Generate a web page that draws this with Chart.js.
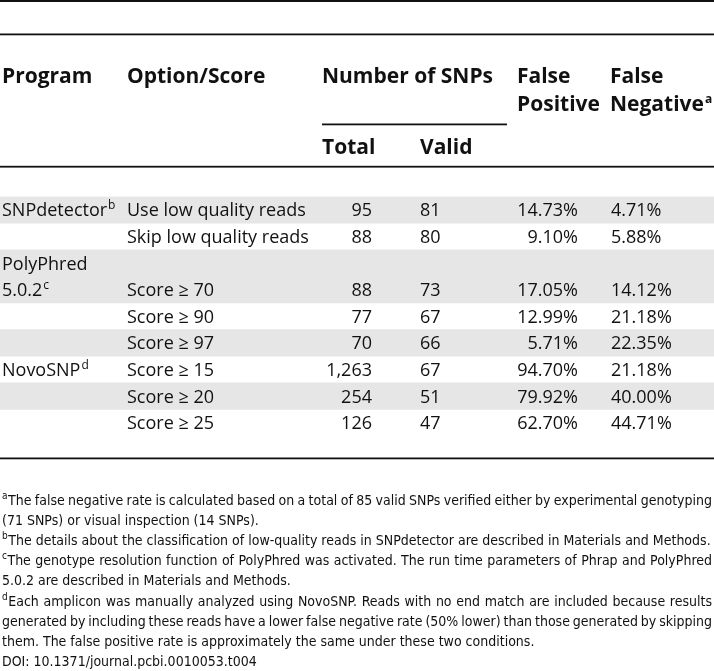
<!DOCTYPE html>
<html>
<head>
<meta charset="utf-8">
<script src="https://cdn.jsdelivr.net/npm/chart.js@4.4.1/dist/chart.umd.min.js"></script>
<style>
  html, body { margin: 0; padding: 0; background: #fff; }
  #wrap { position: relative; width: 714px; height: 671px; }
</style>
</head>
<body>
<div id="wrap"><canvas id="snpTable"></canvas></div>
<script>
// ---------- Table data ---------- //
const programs = ['SNPdetector', '', 'PolyPhred', '5.0.2', '', '', 'NovoSNP', '', ''];
const programNotes = ['b', '', '', 'c', '', '', 'd', '', ''];
const options = ['Use low quality reads', 'Skip low quality reads', '', 'Score \u2265 70', 'Score \u2265 90',
  'Score \u2265 97', 'Score \u2265 15', 'Score \u2265 20', 'Score \u2265 25'];
const totals = [95, 88, null, 88, 77, 70, 1263, 254, 126];
const valids = [81, 80, null, 73, 67, 66, 67, 51, 47];
const falsePositive = [14.73, 9.10, null, 17.05, 12.99, 5.71, 94.70, 79.92, 62.70];
const falseNegative = [4.71, 5.88, null, 14.12, 21.18, 22.35, 21.18, 40.00, 44.71];
const shadedRows = [true, false, true, true, false, true, false, true, false];

const headTop = ['Program', 'Option/Score', 'Number of SNPs', 'False', 'False'];
const headSecond = ['Positive', 'Negative'];
const headSub = ['Total', 'Valid'];

const footnotes = [
  { mark: 'a', lines: ['The false negative rate is calculated based on a total of 85 valid SNPs verified either by experimental genotyping',
    '(71 SNPs) or visual inspection (14 SNPs).'] },
  { mark: 'b', lines: ['The details about the classification of low-quality reads in SNPdetector are described in Materials and Methods.'] },
  { mark: 'c', lines: ['The genotype resolution function of PolyPhred was activated. The run time parameters of Phrap and PolyPhred',
    '5.0.2 are described in Materials and Methods.'] },
  { mark: 'd', lines: ['Each amplicon was manually analyzed using NovoSNP. Reads with no end match are included because results',
    'generated by including these reads have a lower false negative rate (50% lower) than those generated by skipping',
    'them. The false positive rate is approximately the same under these two conditions.'] }
];
const doiLine = 'DOI: 10.1371/journal.pcbi.0010053.t004';

// ---------- Look ---------- //
const INK = '#111';
const SHADE = '#e6e6e6';
const BODY_FONT = '18px "Open Sans"';
const HEAD_FONT = 'bold 21px "Open Sans"';
const SUP_FONT = '12px "Open Sans"';
const NOTE_FONT = '14px "Liberation Sans Narrow", "DejaVu Sans Condensed", sans-serif';
const NOTE_SUP = '10px "Liberation Sans Narrow", "DejaVu Sans Condensed", sans-serif';

// column anchors (x)
const COL = { program: 2, option: 127, total: 372, valid: 420, fp: 578, fn: 611 };

function drawWithSup(ctx, text, sup, x, base, font, supFont, raise) {
  ctx.font = font;
  ctx.fillText(text, x, base);
  if (!sup) return;
  const w = ctx.measureText(text).width;
  ctx.font = supFont;
  ctx.fillText(sup, x + w + 1, base - raise);
}

function justifyLine(ctx, line, x, base, width) {
  const words = line.split(' ');
  const natural = words.reduce((s, w) => s + ctx.measureText(w).width, 0);
  const gap = (width - natural) / (words.length - 1);
  if (gap < 2.5) { ctx.fillText(line, x, base, width); return; }
  let cx = x;
  words.forEach(w => {
    ctx.fillText(w, cx, base);
    cx += ctx.measureText(w).width + gap;
  });
}

const tablePlugin = {
  id: 'tableText',
  afterDatasetsDraw(chart) {
    const { ctx, chartArea, scales: { y } } = chart;
    const W = chart.width;
    ctx.save();
    ctx.fillStyle = INK;
    ctx.textBaseline = 'alphabetic';

    // rules
    ctx.fillRect(0, 0, W, 2);
    ctx.fillRect(0, 33.5, W, 1.8);
    ctx.fillRect(322, 123.5, 185, 1.8);
    ctx.fillRect(0, 165.8, W, 1.8);
    ctx.fillRect(0, chartArea.bottom + 21.5, W, 1.8);

    // header
    ctx.textAlign = 'left';
    const hx = [COL.program, COL.option, 322, 517, 610];
    ctx.font = HEAD_FONT;
    headTop.forEach((t, i) => ctx.fillText(t, hx[i], 82.5));
    ctx.fillText(headSecond[0], 517, 110.5);
    drawWithSup(ctx, headSecond[1], 'a', 610, 110.5, HEAD_FONT, 'bold 12px "Open Sans"', 8);
    ctx.font = HEAD_FONT;
    ctx.fillText(headSub[0], 322, 153.5);
    ctx.fillText(headSub[1], 420, 153.5);

    // body rows
    options.forEach((opt, i) => {
      const base = y.getPixelForValue(i) + 6.5;
      ctx.textAlign = 'left';
      if (programs[i]) drawWithSup(ctx, programs[i], programNotes[i], COL.program, base, BODY_FONT, SUP_FONT, 7);
      ctx.font = BODY_FONT;
      if (opt) ctx.fillText(opt, COL.option, base);
      if (totals[i] !== null) {
        ctx.textAlign = 'right';
        ctx.fillText(totals[i].toLocaleString('en-US'), COL.total, base);
        ctx.textAlign = 'left';
        ctx.fillText(String(valids[i]), COL.valid, base);
        ctx.textAlign = 'right';
        ctx.fillText(falsePositive[i].toFixed(2) + '%', COL.fp, base);
        ctx.textAlign = 'left';
        ctx.fillText(falseNegative[i].toFixed(2) + '%', COL.fn, base);
      }
    });

    // footnotes
    ctx.textAlign = 'left';
    let lineNo = 0;
    const noteBase = chartArea.bottom + 69;
    const lineGap = 20.1;
    footnotes.forEach(note => {
      note.lines.forEach((line, k) => {
        const base = noteBase + lineNo * lineGap;
        let x = 2;
        if (k === 0) {
          ctx.font = NOTE_SUP;
          ctx.fillText(note.mark, 2, base - 6);
          x = 2 + ctx.measureText(note.mark).width + 0.5;
        }
        ctx.font = NOTE_FONT;
        if (k < note.lines.length - 1) justifyLine(ctx, line, x, base, 712 - x);
        else ctx.fillText(line, x, base, 712 - x);
        lineNo++;
      });
    });
    ctx.font = NOTE_FONT;
    ctx.fillText(doiLine, 2, noteBase + lineNo * lineGap);
    ctx.restore();
  }
};

new Chart(document.getElementById('snpTable'), {
  type: 'bar',
  data: {
    labels: options.map((o, i) => o || programs[i]),
    datasets: [{
      data: shadedRows.map(s => (s ? [0, 1] : null)),
      backgroundColor: SHADE,
      borderWidth: 0,
      barPercentage: 1,
      categoryPercentage: 1
    }]
  },
  options: {
    indexAxis: 'y',
    responsive: true,
    maintainAspectRatio: false,
    animation: false,
    layout: { padding: { top: 196.5, bottom: 235, left: 0, right: 0 } },
    scales: {
      x: { type: 'linear', min: 0, max: 1, display: false },
      y: { display: false }
    },
    plugins: { legend: { display: false }, tooltip: { enabled: false } }
  },
  plugins: [tablePlugin]
});
</script>
</body>
</html>
